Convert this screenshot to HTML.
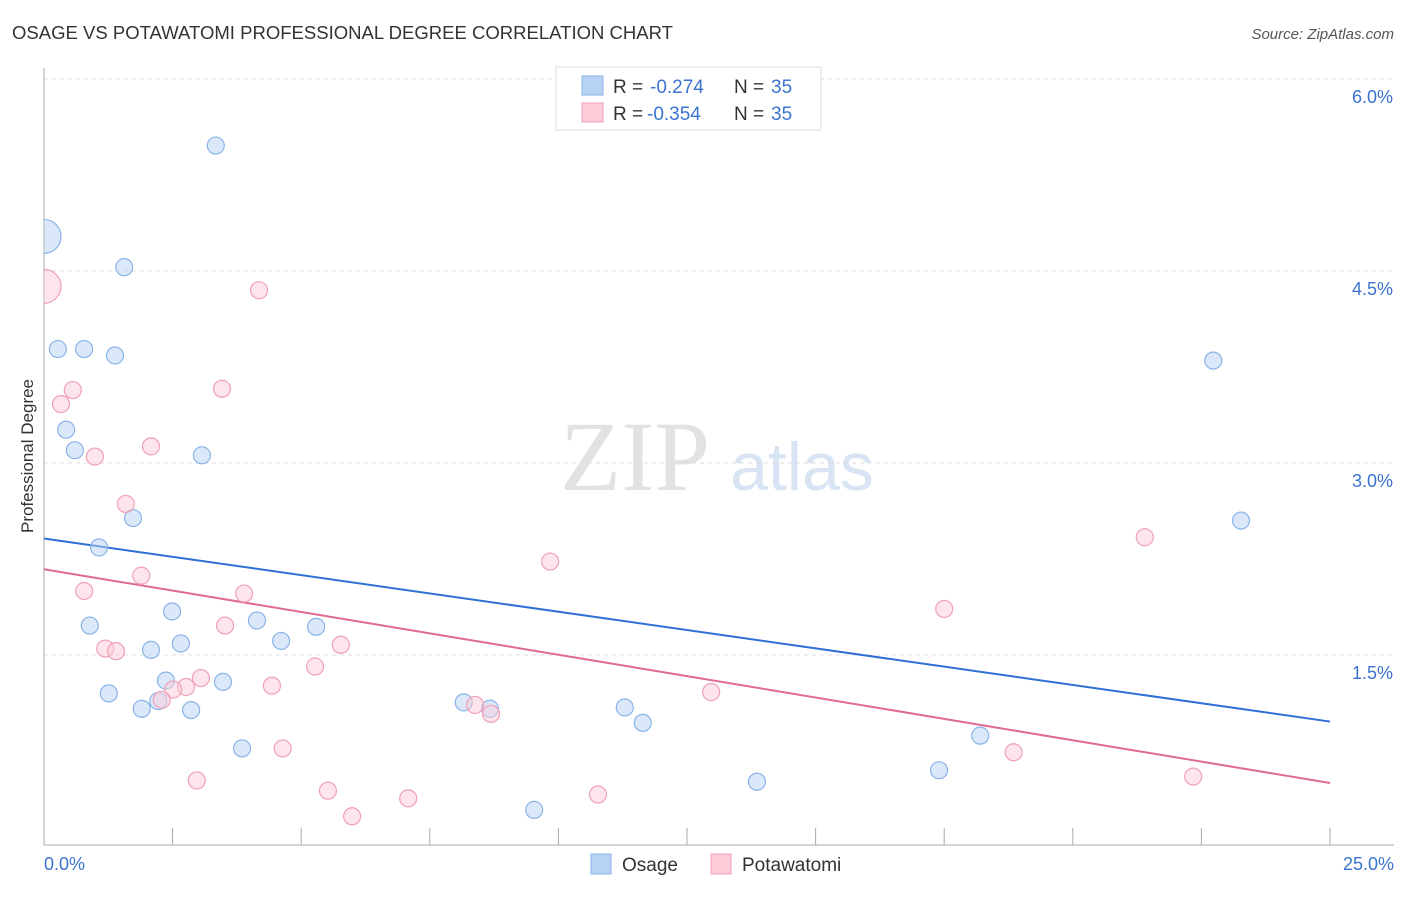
<!DOCTYPE html>
<html><head><meta charset="utf-8"><style>
body{margin:0;background:#fff;font-family:"Liberation Sans",sans-serif;}
svg text{font-family:"Liberation Sans",sans-serif;}
svg text.serif{font-family:"Liberation Serif",serif;}
</style></head><body>
<svg id="chart" width="1406" height="892" xmlns="http://www.w3.org/2000/svg">
<text x="12" y="39" font-size="18" fill="#333" textLength="661" lengthAdjust="spacingAndGlyphs">OSAGE VS POTAWATOMI PROFESSIONAL DEGREE CORRELATION CHART</text>
<text x="1394" y="39" font-size="15" fill="#555" font-style="italic" text-anchor="end">Source: ZipAtlas.com</text>
<text transform="translate(33,456) rotate(-90)" font-size="17" fill="#333" text-anchor="middle">Professional Degree</text>
<g>
<text class="serif" x="635" y="490" font-size="100" fill="#e2e2e2" text-anchor="middle">ZIP</text>
<text x="802" y="490" font-size="68" fill="#d8e4f4" text-anchor="middle">atlas</text>
</g>
<g id="grid"></g>
<g id="axes"></g>
<defs><clipPath id="pc"><rect x="44" y="60" width="1350" height="786"/></clipPath></defs>
<g id="lines"></g>
<g id="points" clip-path="url(#pc)"></g>
<g>
<rect x="556" y="67" width="265" height="63" fill="#fff" stroke="#ddd"/>
<rect x="582" y="76" width="21" height="19" fill="#b8d2f4" stroke="#8ab4e8"/>
<text x="613" y="93" font-size="19" fill="#333">R = </text><text x="650" y="93" font-size="19" fill="#3a74d0">-0.274</text>
<text x="734" y="93" font-size="19" fill="#333">N = </text><text x="771" y="93" font-size="19" fill="#3a74d0">35</text>
<rect x="582" y="103" width="21" height="19" fill="#fccbd8" stroke="#f0a0b8"/>
<text x="613" y="120" font-size="19" fill="#333">R = </text><text x="647" y="120" font-size="19" fill="#3a74d0">-0.354</text>
<text x="734" y="120" font-size="19" fill="#333">N = </text><text x="771" y="120" font-size="19" fill="#3a74d0">35</text>
</g>
<g>
<rect x="591" y="854" width="20" height="20" fill="#b8d2f4" stroke="#8ab4e8"/>
<text x="622" y="871" font-size="19" fill="#333">Osage</text>
<rect x="711" y="854" width="20" height="20" fill="#fccbd8" stroke="#f0a0b8"/>
<text x="742" y="871" font-size="19" fill="#333">Potawatomi</text>
</g>
</svg>
<script>
const yTicks=[1.5,3.0,4.5,6.0];
const yTickLabels=["1.5%","3.0%","4.5%","6.0%"];
const xEndLabels=["0.0%","25.0%"];
const osageX=[0,3.34,1.56,0.27,0.78,1.38,0.43,0.60,3.07,1.73,1.07,2.49,0.89,4.14,5.29,2.66,4.61,2.08,2.37,3.48,1.26,2.22,1.90,2.86,3.85,8.16,8.67,11.29,11.64,9.53,13.86,17.40,18.20,22.73,23.27];
const osageY=[4.77,5.48,4.53,3.89,3.89,3.84,3.26,3.10,3.06,2.57,2.34,1.84,1.73,1.77,1.72,1.59,1.61,1.54,1.30,1.29,1.20,1.14,1.08,1.07,0.77,1.13,1.08,1.09,0.97,0.29,0.51,0.60,0.87,3.80,2.55];
const potX=[0,4.18,0.56,0.33,3.46,2.08,0.99,1.59,1.89,0.78,3.89,3.52,5.77,1.19,1.40,5.27,3.05,4.43,2.76,2.51,2.29,8.38,8.69,4.64,2.97,5.52,5.99,7.08,10.77,9.84,12.97,17.50,18.85,21.40,22.34];
const potY=[4.38,4.35,3.57,3.46,3.58,3.13,3.05,2.68,2.12,2.00,1.98,1.73,1.58,1.55,1.53,1.41,1.32,1.26,1.25,1.23,1.15,1.11,1.04,0.77,0.52,0.44,0.24,0.38,0.41,2.23,1.21,1.86,0.74,2.42,0.55];
const osageTrend=[2.41,0.98];
const potTrend=[2.17,0.50];
const NS="http://www.w3.org/2000/svg";
const X=v=>44+v*51.44, Y=v=>847-v*128;
function mk(p,t,a){const e=document.createElementNS(NS,t);for(const k in a)e.setAttribute(k,a[k]);p.appendChild(e);return e;}
const grid=document.getElementById('grid'),axes=document.getElementById('axes'),lines=document.getElementById('lines'),pts=document.getElementById('points');
yTicks.forEach((t,i)=>{
 const l=mk(grid,'line',{x1:44,x2:1394,y1:Y(t),y2:Y(t),stroke:'#ddd','stroke-dasharray':'4,4'});
 
 
 const tx=mk(grid,'text',{x:1393,y:Y(t)+24,'font-size':18,fill:'#3a74d0','text-anchor':'end'});
 tx.textContent=yTickLabels[i];
 
 
});
let a=mk(axes,'line',{x1:44,x2:44,y1:68,y2:845,stroke:'#aaa'});


a=mk(axes,'line',{x1:44,x2:1394,y1:845,y2:845,stroke:'#aaa'});


for(let i=1;i<=10;i++){const t=mk(axes,'line',{x1:X(i*2.5),x2:X(i*2.5),y1:828,y2:845,stroke:'#aaa'});
 
 }
let t1=mk(axes,'text',{x:44,y:870,'font-size':18,fill:'#3a74d0'});t1.textContent=xEndLabels[0];


let t2=mk(axes,'text',{x:1394,y:870,'font-size':18,fill:'#3a74d0','text-anchor':'end'});t2.textContent=xEndLabels[1];


function series(xs,ys,fill,stroke,name){xs.forEach((x,i)=>{const c=mk(pts,'circle',{cx:X(x),cy:Y(ys[i]),r:i==0?17:8.5,fill:fill,stroke:stroke,'stroke-width':1.2});
 
 });}
series(osageX,osageY,'rgba(184,210,244,0.5)','#8ab4e8','osage-point');
series(potX,potY,'rgba(252,203,216,0.5)','#f0a0b8','potawatomi-point');
let l1=mk(lines,'line',{x1:X(0),y1:Y(osageTrend[0]),x2:X(25),y2:Y(osageTrend[1]),stroke:'#2f6fd6','stroke-width':2});


let l2=mk(lines,'line',{x1:X(0),y1:Y(potTrend[0]),x2:X(25),y2:Y(potTrend[1]),stroke:'#e06a96','stroke-width':2});


</script>
</body></html>
